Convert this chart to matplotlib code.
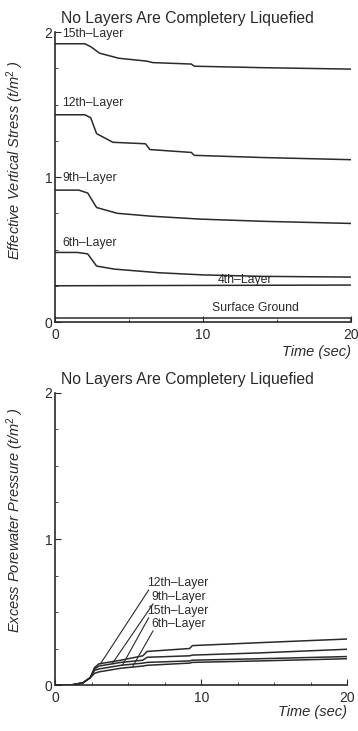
import matplotlib
matplotlib.use("Agg")
import matplotlib.pyplot as plt
from matplotlib.ticker import MultipleLocator

plt.rcParams['font.family'] = ['Liberation Sans', 'DejaVu Sans']
plt.rcParams['mathtext.fontset'] = 'custom'
plt.rcParams['mathtext.rm'] = 'Liberation Sans'
plt.rcParams['mathtext.it'] = 'Liberation Sans:italic'

INK = '#2a2a2a'
title = 'No Layers Are Completery Liquefied'

# effective vertical stress (t/m2)
t15 = [0, 2.0, 2.4, 3.0, 4.3, 6.2, 6.6, 9.2, 9.4, 14, 20]
s15 = [1.92, 1.92, 1.90, 1.855, 1.82, 1.80, 1.79, 1.78, 1.765, 1.755, 1.745]
t12 = [0, 2.0, 2.4, 2.8, 3.9, 6.1, 6.4, 9.2, 9.4, 14, 20]
s12 = [1.43, 1.43, 1.41, 1.30, 1.24, 1.23, 1.19, 1.17, 1.15, 1.135, 1.12]
t9 = [0, 1.6, 2.2, 2.8, 4.2, 6.5, 9.8, 14, 20]
s9 = [0.91, 0.91, 0.89, 0.79, 0.75, 0.73, 0.71, 0.695, 0.68]
t6 = [0, 1.5, 2.2, 2.8, 4.0, 7.0, 10, 14, 20]
s6 = [0.48, 0.48, 0.47, 0.386, 0.365, 0.34, 0.325, 0.315, 0.31]
t4 = [0, 20]
s4 = [0.25, 0.255]
t_surf = [0, 20]
s_surf = [0.03, 0.03]

# excess porewater pressure (t/m2)
tp = [0, 1.1, 1.9, 2.4, 2.7, 3.0, 4.5, 6.0, 6.3, 9.2, 9.4, 14, 20]
p12 = [0, 0, 0.015, 0.05, 0.12, 0.145, 0.17, 0.20, 0.23, 0.25, 0.27, 0.29, 0.315]
p9 = [0, 0, 0.015, 0.05, 0.11, 0.13, 0.155, 0.17, 0.19, 0.20, 0.205, 0.22, 0.245]
p15 = [0, 0, 0.015, 0.05, 0.10, 0.11, 0.135, 0.15, 0.155, 0.165, 0.17, 0.18, 0.195]
p6 = [0, 0, 0.015, 0.05, 0.08, 0.09, 0.115, 0.13, 0.135, 0.15, 0.155, 0.165, 0.18]

fig = plt.figure(figsize=(3.58, 7.31), dpi=100)
ax1 = fig.add_axes([0.154, 0.5595, 0.827, 0.3965])
ax2 = fig.add_axes([0.154, 0.0629, 0.816, 0.3995])


def style(ax, minor_x, time_y, ylab, ylab_y):
    ax.set_xlim(0, 20)
    ax.set_ylim(0, 2)
    for s in ['top', 'right']:
        ax.spines[s].set_visible(False)
    for s in ['left', 'bottom']:
        ax.spines[s].set_color(INK)
        ax.spines[s].set_linewidth(1.2)
    ax.set_xticks([0, 10, 20])
    ax.set_yticks([0, 1, 2])
    ax.xaxis.set_minor_locator(MultipleLocator(minor_x))
    ax.yaxis.set_minor_locator(MultipleLocator(0.25))
    ax.tick_params(direction='in', length=4, width=0.8, colors=INK,
                   labelsize=10, pad=4)
    ax.tick_params(which='minor', direction='in', length=2.5, width=0.6, colors=INK)
    ax.tick_params(axis='y', pad=2)
    ax.text(1.0, time_y, 'Time (sec)', transform=ax.transAxes, ha='right',
            va='center', style='italic', fontsize=10.5, color=INK)
    ax.set_title(title, fontsize=11.3, color=INK, loc='left', x=0.02, pad=6.5)
    ax.set_ylabel(ylab, style='italic', fontsize=10.5, color=INK)
    ax.yaxis.set_label_coords(-0.10, ylab_y)


style(ax1, 5, -0.103, 'Effective Vertical Stress (t/m$^2$ )', 0.56)
style(ax2, 2.5, -0.092, 'Excess Porewater Pressure (t/m$^2$ )', 0.565)

lw = 1.1
for t, s in [(t15, s15), (t12, s12), (t9, s9), (t6, s6), (t4, s4), (t_surf, s_surf)]:
    ax1.plot(t, s, color=INK, lw=lw)
ax1.vlines(20, 0, s_surf[-1], color=INK, lw=lw)

lab = dict(fontsize=8.8, color=INK)
ax1.text(0.5, 1.985, '15th\u2013Layer', va='center', **lab)
ax1.text(0.5, 1.51, '12th\u2013Layer', va='center', **lab)
ax1.text(0.5, 0.995, '9th\u2013Layer', va='center', **lab)
ax1.text(0.5, 0.545, '6th\u2013Layer', va='center', **lab)
ax1.text(11.0, 0.29, '4th\u2013Layer', va='center', **lab)
ax1.text(10.6, 0.10, 'Surface Ground', va='center', **lab)

for p in [p12, p9, p15, p6]:
    ax2.plot(tp, p, color=INK, lw=lw)

names = ['12th\u2013Layer', '9th\u2013Layer', '15th\u2013Layer', '6th\u2013Layer']
lab_x = [6.3, 6.6, 6.3, 6.6]
lab_y = [0.70, 0.605, 0.51, 0.42]
tip_x = [3.1, 3.9, 4.6, 5.3]
tip_y = [0.145, 0.145, 0.135, 0.125]
for n, x, y, tx, ty in zip(names, lab_x, lab_y, tip_x, tip_y):
    ax2.text(x, y, n, va='center', **lab)
    ax2.plot([x + 0.1, tx], [y - 0.05, ty], color=INK, lw=0.8)

fig.savefig('out.png', dpi=100)
